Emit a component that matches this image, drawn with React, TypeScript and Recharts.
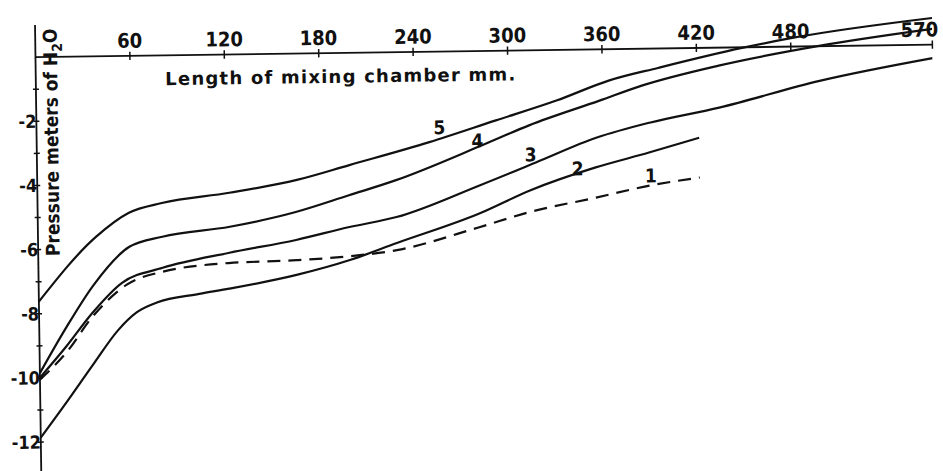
import React from "react";
import { LineChart, Line, XAxis, YAxis, ReferenceLine, ReferenceDot } from "recharts";

// length of mixing chamber (mm) vs pressure (m H2O)
const curve1: number[][] = [
  [0, -10.05], [17, -9.22], [34, -8.11], [56, -7.13], [79, -6.74], [121, -6.5],
  [164, -6.44], [198, -6.34], [228, -6.17], [280, -5.5], [312, -5.05], [355, -4.62],
  [389, -4.27], [421, -4.04],
];
const curve2: number[][] = [
  [0, -11.86], [17, -10.75], [34, -9.6], [50, -8.55], [62, -8.0], [75, -7.7],
  [102, -7.45], [121, -7.3], [164, -6.9], [198, -6.46], [228, -5.95], [281, -5.06],
  [313, -4.37], [355, -3.68], [389, -3.24], [421, -2.8],
];
const curve3: number[][] = [
  [0, -9.99], [17, -9.03], [34, -7.99], [53, -7.07], [79, -6.62], [121.5, -6.18],
  [164, -5.81], [198, -5.43], [228, -5.14], [281, -4.19], [317, -3.5], [356, -2.75],
  [389.5, -2.31], [434, -1.87], [498, -1.08], [570, -0.42],
];
const curve4: number[][] = [
  [0, -9.85], [17, -8.45], [35, -7.12], [58, -5.95], [79, -5.65], [122, -5.37],
  [164, -4.94], [198, -4.44], [228, -3.99], [283, -2.94], [313, -2.34], [358, -1.6],
  [385, -1.15], [434, -0.56], [498, 0.01], [570, 0.49],
];
const curve5: number[][] = [
  [0, -7.62], [37, -5.62], [58, -4.89], [79, -4.6], [122, -4.31], [165, -3.94],
  [198.5, -3.5], [249.5, -2.82], [292, -2.17], [330.6, -1.58], [364, -0.98],
  [396, -0.6], [449, -0.02], [481, 0.27], [570, 0.83],
];

// curve number labels: [mm, pressure, text]
const curveLabels: [number, number, string][] = [
  [256, -2.36, "5"],
  [280, -2.79, "4"],
  [313.7, -3.25, "3"],
  [343.5, -3.71, "2"],
  [390, -3.96, "1"],
];

const xTicks = [60, 120, 180, 240, 300, 360, 420, 480, 570];
const yTicks = [-12, -11, -10, -9, -8, -7, -6, -5, -4, -3, -2, -1];

const toRows = (pts: number[][]) => pts.map(([mm, p]) => ({ mm, p }));

const digitFont = "'DejaVu Sans Condensed', 'DejaVu Sans', sans-serif";
const textFont = "'DejaVu Sans', sans-serif";

const YTick = (props: any) => {
  const { x, y, payload } = props;
  const v = payload.value as number;
  return (
    <g>
      <line x1={x - 3} x2={x + 3} y1={y} y2={y} stroke="#111" strokeWidth={1.5} />
      {v % 2 === 0 && (
        <text x={x} y={y} dy="0.36em" textAnchor="end" fontFamily={digitFont}
          fontWeight={700} fontSize={18} fill="#111">
          {v}
        </text>
      )}
    </g>
  );
};

const centerOf = (vb: any) => ({ cx: vb.x + vb.width / 2, cy: vb.y + vb.height / 2 });

// tick number above the axis; the last one is pulled in so it stays on the page
const xTickLabel = (t: number, last: boolean) => (props: any) => {
  const vb = props.viewBox;
  const { cx } = centerOf(vb);
  return (
    <text x={last ? cx + 6 : cx} y={vb.y - 4} textAnchor={last ? "end" : "middle"}
      fontFamily={digitFont} fontWeight={700} fontSize={20} fill="#111">
      {t}
    </text>
  );
};

const curveLabel = (text: string) => (props: any) => {
  const { cx, cy } = centerOf(props.viewBox);
  return (
    <text x={cx} y={cy} dy="0.36em" textAnchor="middle" fontFamily={digitFont}
      fontWeight={700} fontSize={19} fill="#111">
      {text}
    </text>
  );
};

const titleLabel = (props: any) => {
  const { cx, cy } = centerOf(props.viewBox);
  return (
    <text x={cx} y={cy} textAnchor="middle" fontFamily={textFont} fontWeight={700}
      fontSize={18} fill="#111" textLength={350} lengthAdjust="spacing">
      Length of mixing chamber mm.
    </text>
  );
};

const yTitleLabel = (props: any) => {
  const { cx, cy } = centerOf(props.viewBox);
  return (
    <text x={cx} y={cy} textAnchor="middle" transform={`rotate(-90, ${cx}, ${cy})`}
      fontFamily={digitFont} fontWeight={700} fontSize={19} fill="#111">
      Pressure meters of H
      <tspan dy={5} fontSize={14}>2</tspan>
      <tspan dy={-5}>O</tspan>
    </text>
  );
};

export default function App() {
  return (
    <div style={{ position: "absolute", left: 0, top: 0, width: 943, height: 471, overflow: "hidden", background: "#fff" }}>
      <div style={{ width: 943, height: 471, transform: "rotate(-0.8deg)" }}>
        <LineChart width={943} height={471} margin={{ top: 19, right: 8, bottom: 6, left: 0 }}>
          <XAxis dataKey="mm" type="number" domain={[0, 570]} allowDataOverflow hide />
          <YAxis
            type="number"
            domain={[-12.9, 1]}
            allowDataOverflow
            ticks={yTicks}
            interval={0}
            width={38}
            tickLine={false}
            tickSize={0}
            tickMargin={0}
            axisLine={{ stroke: "#111", strokeWidth: 1.8 }}
            tick={<YTick />}
          />
          <ReferenceLine y={0} stroke="#111" strokeWidth={1.8} />
          {xTicks.map((t, i) => (
            <ReferenceLine
              key={t}
              segment={[{ x: t, y: 0.13 }, { x: t, y: -0.13 }]}
              stroke="#111"
              strokeWidth={1.5}
              ifOverflow="visible"
              label={{ content: xTickLabel(t, i === xTicks.length - 1) }}
            />
          ))}
          <Line data={toRows(curve1)} dataKey="p" type="monotone" stroke="#111" strokeWidth={2.2}
            strokeDasharray="13 8" dot={false} isAnimationActive={false} />
          <Line data={toRows(curve2)} dataKey="p" type="monotone" stroke="#111" strokeWidth={2.2}
            dot={false} isAnimationActive={false} />
          <Line data={toRows(curve3)} dataKey="p" type="monotone" stroke="#111" strokeWidth={2.2}
            dot={false} isAnimationActive={false} />
          <Line data={toRows(curve4)} dataKey="p" type="monotone" stroke="#111" strokeWidth={2.2}
            dot={false} isAnimationActive={false} />
          <Line data={toRows(curve5)} dataKey="p" type="monotone" stroke="#111" strokeWidth={2.2}
            dot={false} isAnimationActive={false} />
          {curveLabels.map(([x, y, t]) => (
            <ReferenceDot key={t} x={x} y={y} r={0} fill="none" stroke="none" ifOverflow="visible"
              label={{ content: curveLabel(t) }} />
          ))}
          <ReferenceDot x={193.5} y={-0.93} r={0} fill="none" stroke="none" ifOverflow="visible"
            label={{ content: titleLabel }} />
          <ReferenceDot x={13.7} y={-2.66} r={0} fill="none" stroke="none" ifOverflow="visible"
            label={{ content: yTitleLabel }} />
        </LineChart>
      </div>
    </div>
  );
}
